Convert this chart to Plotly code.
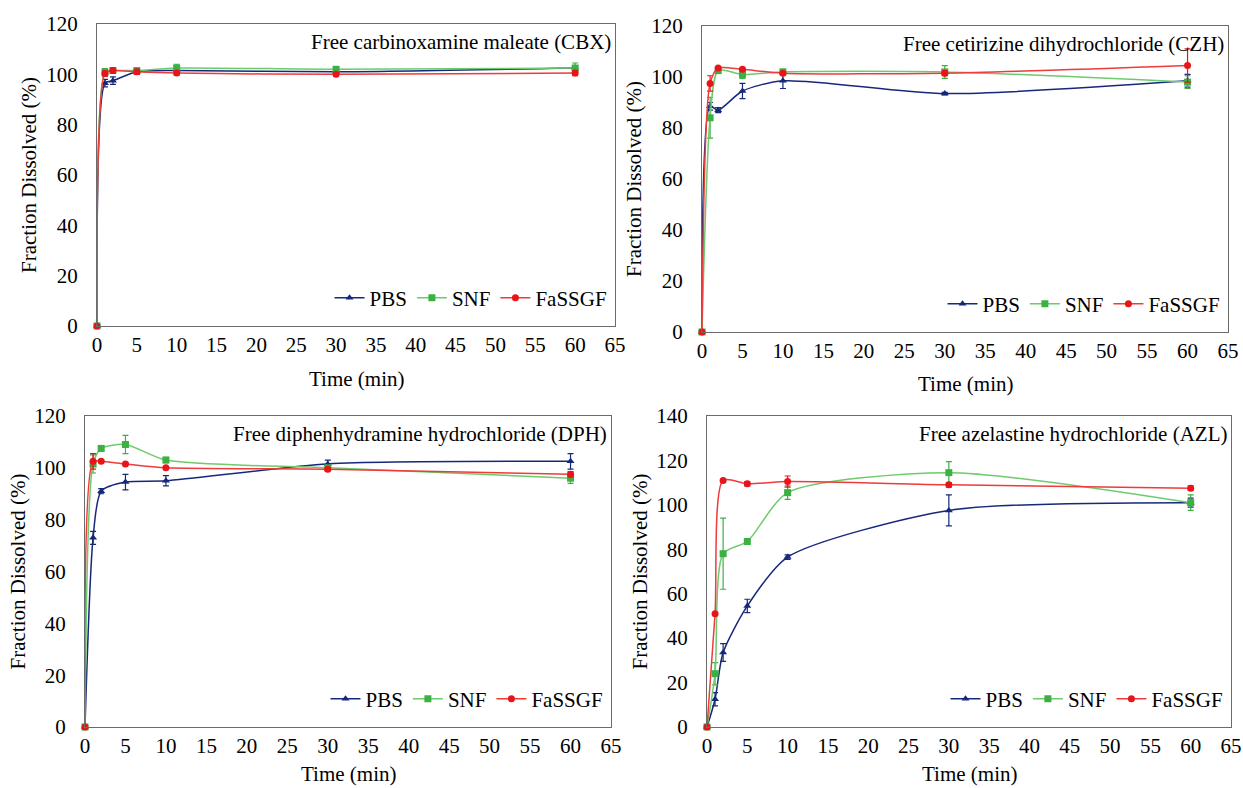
import plotly.graph_objects as go

time_min = [0, 1, 2, 5, 10, 30, 60]
series_names = ["PBS", "SNF", "FaSSGF"]

panel_titles = [
    "Free carbinoxamine maleate (CBX)",
    "Free cetirizine dihydrochloride (CZH)",
    "Free diphenhydramine hydrochloride (DPH)",
    "Free azelastine hydrochloride (AZL)",
]

# CBX
cbx_pbs = [0, 96.5, 97.5, 101, 101.5, 101, 102.5]
cbx_pbs_err = [0, 1.5, 1.5, 1, 1, 0.8, 1]
cbx_snf = [0, 100.8, 101.5, 101.5, 102.5, 102, 102.5]
cbx_snf_err = [0, 1.5, 1, 1, 1.5, 1, 2]
cbx_fas = [0, 100.3, 101.5, 101, 100.5, 100, 100.5]
cbx_fas_err = [0, 1, 1, 1, 0.8, 0.5, 1]

# CZH
czh_pbs = [0, 88.5, 87, 94.5, 98.5, 93.5, 98.5]
czh_pbs_err = [0, 1.5, 1, 3, 3, 0.5, 2.5]
czh_snf = [0, 84, 102.5, 101, 102, 102, 98]
czh_snf_err = [0, 8, 1, 1.5, 1, 2.5, 2.5]
czh_fas = [0, 97.5, 103.5, 103, 101.5, 101.5, 104.5]
czh_fas_err = [0, 3, 0.5, 0.5, 0.5, 1, 6.5]

# DPH
dph_pbs = [0, 73, 91, 94.5, 95, 101.5, 102.5]
dph_pbs_err = [0, 2.5, 1, 3, 2, 1.5, 3]
dph_snf = [0, 101.5, 107.5, 109, 103, 100, 96]
dph_snf_err = [0, 3.5, 1, 3.5, 1, 1, 2]
dph_fas = [0, 102.5, 102.5, 101.5, 100, 99.5, 97.5]
dph_fas_err = [0, 3, 0.5, 0.5, 0.5, 0.5, 1]

# AZL
azl_pbs = [0, 12.5, 33.5, 54.5, 76.5, 97.5, 101]
azl_pbs_err = [0, 3, 4, 3, 1, 7, 2]
azl_snf = [0, 24, 78, 83.5, 105.5, 114.5, 101]
azl_snf_err = [0, 5, 16, 1, 3, 5, 3.5]
azl_fas = [0, 51, 111, 109.5, 110.5, 109, 107.5]
azl_fas_err = [0, 0.5, 0.5, 1, 2.5, 1, 1]

x_ticks = list(range(0, 70, 5))
y_max = [120, 120, 120, 140]

panels = [
    [(cbx_pbs, cbx_pbs_err), (cbx_snf, cbx_snf_err), (cbx_fas, cbx_fas_err)],
    [(czh_pbs, czh_pbs_err), (czh_snf, czh_snf_err), (czh_fas, czh_fas_err)],
    [(dph_pbs, dph_pbs_err), (dph_snf, dph_snf_err), (dph_fas, dph_fas_err)],
    [(azl_pbs, azl_pbs_err), (azl_snf, azl_snf_err), (azl_fas, azl_fas_err)],
]

W, H = 1243, 788
# plot area boxes in pixels: left, top, right, bottom
boxes = [(97, 24, 615, 326), (702, 26, 1228, 332), (85, 416, 611, 727), (707, 416, 1231, 727)]
xtitle_gap = [53, 52, 47, 47]

line_colors = ["#16287A", "#6DCB6D", "#EE3B3B"]
marker_colors = ["#16287A", "#3CB043", "#E8141A"]
symbols = ["triangle-up", "square", "circle"]
FONT = "Liberation Serif"

fig = go.Figure()
for p, (data, box) in enumerate(zip(panels, boxes)):
    xa = "x" if p == 0 else f"x{p+1}"
    ya = "y" if p == 0 else f"y{p+1}"
    lg = "legend" if p == 0 else f"legend{p+1}"
    for s, (vals, err) in enumerate(data):
        fig.add_trace(go.Scatter(
            x=time_min, y=vals, name=series_names[s], xaxis=xa, yaxis=ya, legend=lg,
            mode="lines+markers", cliponaxis=False,
            line=dict(color=line_colors[s], width=1.5, shape="spline", smoothing=0.7),
            marker=dict(symbol=symbols[s], color=marker_colors[s], size=7),
            error_y=dict(type="data", array=err, visible=True, color=marker_colors[s], thickness=1.2, width=3),
        ))
    l, t, r, b = box
    xd = [l / W, r / W]
    yd = [1 - b / H, 1 - t / H]
    axis_common = dict(showline=True, linecolor="#6b6b6b", linewidth=1.3, mirror=True,
                       showgrid=False, zeroline=False, ticks="", automargin=False,
                       tickfont=dict(family=FONT, size=21, color="black"))
    fig.layout[f"xaxis{'' if p == 0 else p+1}"] = dict(
        domain=xd, range=[0, 65], tickvals=x_ticks, anchor=ya, ticklabelstandoff=0, **axis_common)
    fig.layout[f"yaxis{'' if p == 0 else p+1}"] = dict(
        domain=yd, range=[0, y_max[p]], dtick=20, anchor=xa, ticklabelstandoff=14, **axis_common)
    # legend
    fig.layout[lg] = dict(
        orientation="h", x=r / W - 0.002, xanchor="right", y=1 - (b - 28) / H, yanchor="middle",
        bgcolor="rgba(0,0,0,0)", font=dict(family=FONT, size=21, color="black"),
        itemwidth=30, tracegroupgap=0,
    )
    # panel title
    fig.add_annotation(xref="paper", yref="paper", x=(r - 2) / W, y=1 - (t + 18) / H,
                       xanchor="right", yanchor="middle", showarrow=False,
                       text=panel_titles[p], font=dict(family=FONT, size=21, color="black"))
    # axis titles
    fig.add_annotation(xref="paper", yref="paper", x=(l + r) / 2 / W, y=1 - (b + xtitle_gap[p]) / H,
                       xanchor="center", yanchor="middle", showarrow=False,
                       text="Time (min)", font=dict(family=FONT, size=21, color="black"))
    fig.add_annotation(xref="paper", yref="paper", x=(l - 68) / W, y=1 - (t + b) / 2 / H,
                       xanchor="center", yanchor="middle", showarrow=False, textangle=-90,
                       text="Fraction Dissolved (%)", font=dict(family=FONT, size=21, color="black"))

fig.update_layout(width=W, height=H, margin=dict(l=0, r=0, t=0, b=0),
                  font=dict(family=FONT, color="black"),
                  paper_bgcolor="white", plot_bgcolor="white", showlegend=True)
fig.write_html("out.html", config={"displayModeBar": False},
               post_script="document.body.style.margin='0';document.body.style.overflow='hidden';")
